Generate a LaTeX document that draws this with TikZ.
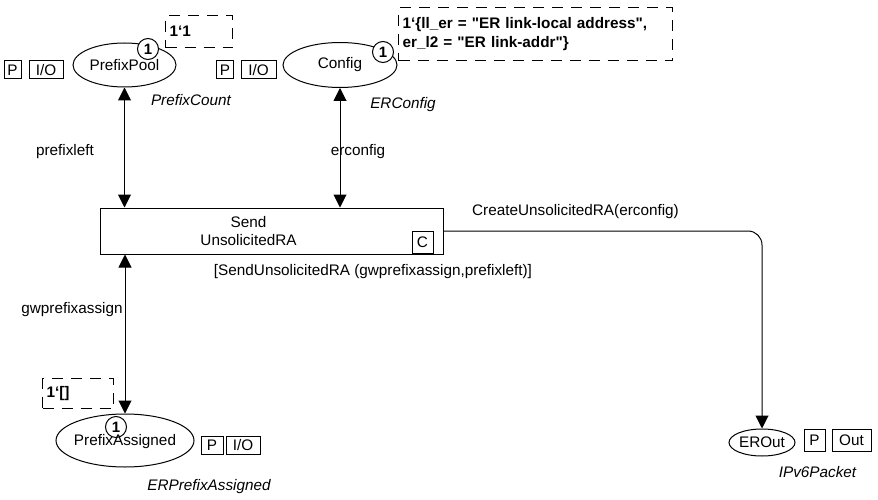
\documentclass[tikz,border=0pt]{standalone}
\usepackage{fontspec}
\setmainfont{Liberation Sans}[Ligatures=TeXOff]
\usetikzlibrary{arrows.meta,shapes.geometric}
\begin{document}
\begin{tikzpicture}[x=1pt,y=-1pt,
  every node/.style={font=\fontsize{15.3}{18}\selectfont},
  place/.style={draw,ellipse,inner sep=0pt,line width=1pt},
  token/.style={draw,circle,minimum size=21pt,inner sep=0pt,line width=1pt,fill=white,font=\fontsize{15}{18}\selectfont\bfseries},
  tagbox/.style={draw,rectangle,inner sep=0pt,line width=1pt,minimum height=18pt},
  marking/.style={draw,dashed,dash pattern=on 11pt off 8pt,line width=1.1pt,inner sep=4pt,font=\fontsize{15.3}{19}\selectfont\bfseries,align=left},
  typ/.style={font=\fontsize{15.3}{18}\selectfont\itshape},
  arc/.style={line width=1pt,-{Triangle[length=13pt,width=13pt]}},
  darc/.style={line width=1pt,{Triangle[length=13pt,width=13pt]}-{Triangle[length=13pt,width=13pt]}}]
\useasboundingbox (0,0) rectangle (878,500);

% places
\node[place,minimum width=103pt,minimum height=44pt] (pp) at (124.5,65) {PrefixPool};
\node[token] (ppt) at (148,49) {1};
\node[marking,minimum width=67pt,minimum height=32pt,anchor=north west,text width=59pt] (ppm) at (165,15) {1‘1};
\node[tagbox,minimum width=17pt] (ppP) at (12.5,70) {P};
\node[tagbox,minimum width=34pt] (ppIO) at (46,70) {I/O};
\node[typ] (ppty) at (191,100) {PrefixCount};

\node[place,minimum width=114pt,minimum height=45pt] (cfg) at (340,65) {Config};
\node[token] (cfgt) at (383,52) {1};
\node[marking,anchor=north west,minimum width=274pt,minimum height=53pt,text width=266pt] (cfgm) at (398,7) {1‘\{ll\_er = "ER link-local address",\\er\_l2 = "ER link-addr"\}};
\node[tagbox,minimum width=17pt] (cfgP) at (225,70) {P};
\node[tagbox,minimum width=35pt] (cfgIO) at (258.5,70) {I/O};
\node[typ] (cfgty) at (403,105) {ERConfig};

\node[place,minimum width=138pt,minimum height=53pt] (pa) at (125,440.5) {};
\node[token] (pat) at (116,427) {1};
\node (patext) at (125,442) {PrefixAssigned};
\node[marking,anchor=north west,minimum width=71pt,minimum height=30pt,text width=63pt] (pam) at (42,378) {1‘[]};
\node[tagbox,minimum width=22pt] (paP) at (212,445) {P};
\node[tagbox,minimum width=34pt] (paIO) at (243,445) {I/O};
\node[typ] (paty) at (209,487) {ERPrefixAssigned};

\node[place,minimum width=66pt,minimum height=27pt] (eo) at (762,442.5) {EROut};
\node[tagbox,minimum width=21pt,minimum height=22pt] (eoP) at (814.5,440) {P};
\node[tagbox,minimum width=39pt,minimum height=22pt] (eoOut) at (851.5,440) {Out};
\node[typ] (eoty) at (817.5,472) {IPv6Packet};

% transition
\node[draw,rectangle,line width=1pt,minimum width=343pt,minimum height=46pt,inner sep=0pt] (t) at (271.5,231) {};
\node[align=center] (tl) at (248.5,231) {Send\\UnsolicitedRA};
\node[tagbox,minimum width=21pt,minimum height=22pt] (tc) at (422.5,242) {C};
\node (guard) at (373,272) {[SendUnsolicitedRA (gwprefixassign,prefixleft)]};

% arcs
\draw[darc] (pp.south) -- (pp.south |- t.north);
\node (l1) at (65,152) {prefixleft};
\draw[darc] (cfg.south) -- (cfg.south |- t.north);
\node (l2) at (358,152) {erconfig};
\draw[darc] (pa.north |- t.south) -- (pa.north);
\node (l3) at (72,310) {gwprefixassign};
\draw[arc,rounded corners=14pt] (t.east) -| (eo.north);
\node (l4) at (575.5,212) {CreateUnsolicitedRA(erconfig)};
\end{tikzpicture}
\end{document}
